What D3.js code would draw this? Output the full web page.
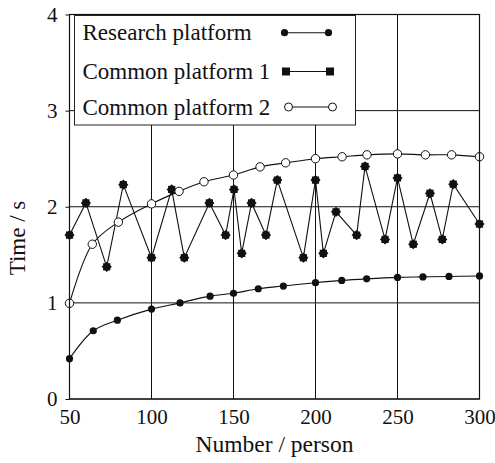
<!DOCTYPE html>
<meta charset="utf-8">
<style>
	body{ margin:0; background:#fff; }
	svg text{ font-family:"Liberation Serif", "DejaVu Serif", serif; fill:#111; }
	.grid line{ stroke:#111; stroke-width:1; }
	.axis path, .axis line{ stroke:#111; }
</style>
<body>
<svg width="495" height="463" id="chart"></svg>
<script src="https://cdn.jsdelivr.net/npm/d3@7"></script>
<script>
	// Research platform
	var researchX = [50, 64.5, 79.2, 100, 117.4, 135.7, 150, 165.1, 180.4, 200, 216, 231.2, 250, 265.5, 281.4, 300];
	var researchY = [0.42, 0.71, 0.82, 0.935, 1.0, 1.07, 1.10, 1.147, 1.175, 1.21, 1.234, 1.25, 1.265, 1.27, 1.275, 1.28];
	// Common platform 1
	var common1X = [50, 60, 72.7, 82.8, 100, 112.3, 120, 135.3, 145.2, 150.3, 155, 161, 169.8, 176.7, 192.6, 200, 204.8, 212.5, 225.1, 230.2, 242.4, 250, 259.6, 269.8, 277.3, 284, 300];
	var common1Y = [1.705, 2.04, 1.375, 2.23, 1.47, 2.18, 1.47, 2.04, 1.705, 2.18, 1.515, 2.04, 1.705, 2.277, 1.47, 2.277, 1.515, 1.947, 1.705, 2.42, 1.66, 2.30, 1.61, 2.14, 1.66, 2.235, 1.82];
	// Common platform 2
	var common2X = [50, 63.9, 79.8, 100, 116.8, 132, 150, 166.2, 181.8, 200, 216.2, 231.4, 250, 267, 283, 300];
	var common2Y = [0.995, 1.61, 1.84, 2.03, 2.16, 2.26, 2.33, 2.415, 2.457, 2.50, 2.52, 2.54, 2.55, 2.54, 2.54, 2.52];

	var xTicks = [50, 100, 150, 200, 250, 300];
	var yTicks = [0, 1, 2, 3, 4];
	var seriesNames = ["Research platform", "Common platform 1", "Common platform 2"];

	var svg = d3.select("#chart");
	var pLeft = 69.5, pTop = 14.5, pRight = 479.5, pBottom = 399;

	var x = d3.scaleLinear().domain([50, 300]).range([pLeft, pRight]);
	var y = d3.scaleLinear().domain([0, 4]).range([pBottom, pTop]);

	/* grid lines */
	var grid = svg.append("g").attr("class", "grid");
	grid.selectAll(".gx").data(xTicks).enter().append("line")
		.attr("x1", function(d){ return x(d); }).attr("x2", function(d){ return x(d); })
		.attr("y1", pTop).attr("y2", pBottom);
	grid.selectAll(".gy").data(yTicks).enter().append("line")
		.attr("x1", pLeft).attr("x2", pRight)
		.attr("y1", function(d){ return y(d); }).attr("y2", function(d){ return y(d); });

	/* axes */
	svg.append("g").attr("class", "axis")
		.attr("transform", "translate(0," + pBottom + ")")
		.call(d3.axisBottom(x).tickValues(xTicks).tickFormat(d3.format("d")).tickSize(0).tickPadding(10));
	svg.append("g").attr("class", "axis")
		.attr("transform", "translate(" + pLeft + ",0)")
		.call(d3.axisLeft(y).tickValues(yTicks).tickFormat(d3.format("d")).tickSize(4).tickPadding(8));
	svg.selectAll(".axis .domain").remove();
	svg.selectAll(".axis text").style("font-size", "21px").style("font-family", "Liberation Serif");

	svg.append("text").attr("x", (pLeft + pRight) / 2).attr("y", 452)
		.attr("text-anchor", "middle").style("font-size", "23.5px").text("Number / person");
	svg.append("text").attr("transform", "translate(25," + 238 + ") rotate(-90)")
		.attr("text-anchor", "middle").style("font-size", "23px").text("Time / s");

	/* series */
	function pts(xs, ys){ return xs.map(function(d, i){ return [d, ys[i]]; }); }
	var research = pts(researchX, researchY);
	var common1 = pts(common1X, common1Y);
	var common2 = pts(common2X, common2Y);

	var smooth = d3.line().x(function(d){ return x(d[0]); }).y(function(d){ return y(d[1]); }).curve(d3.curveCatmullRom);
	var straight = d3.line().x(function(d){ return x(d[0]); }).y(function(d){ return y(d[1]); });

	svg.append("path").attr("d", smooth(research)).attr("fill", "none").attr("stroke", "#111").attr("stroke-width", 1.1);
	svg.append("path").attr("d", straight(common1)).attr("fill", "none").attr("stroke", "#111").attr("stroke-width", 1.1);
	svg.append("path").attr("d", smooth(common2)).attr("fill", "none").attr("stroke", "#111").attr("stroke-width", 1.1);

	svg.selectAll(".r").data(research).enter().append("circle")
		.attr("cx", function(d){ return x(d[0]); }).attr("cy", function(d){ return y(d[1]); })
		.attr("r", 3.6).attr("fill", "#111");

	var c1 = svg.selectAll(".c1").data(common1).enter().append("g")
		.attr("transform", function(d){ return "translate(" + x(d[0]) + "," + y(d[1]) + ")"; });
	c1.append("rect").attr("x", -3.6).attr("y", -3.6).attr("width", 7.2).attr("height", 7.2).attr("fill", "#111");
	c1.append("rect").attr("x", -3.6).attr("y", -3.6).attr("width", 7.2).attr("height", 7.2).attr("fill", "#111").attr("transform", "rotate(45)");

	svg.selectAll(".c2").data(common2).enter().append("circle")
		.attr("cx", function(d){ return x(d[0]); }).attr("cy", function(d){ return y(d[1]); })
		.attr("r", 4.2).attr("fill", "#fff").attr("stroke", "#111").attr("stroke-width", 1);

	/* frame */
	svg.append("rect").attr("x", pLeft).attr("y", pTop).attr("width", pRight - pLeft).attr("height", pBottom - pTop)
		.attr("fill", "none").attr("stroke", "#111").attr("stroke-width", 1.2);

	/* legend */
	var legend = svg.append("g");
	legend.append("rect").attr("x", 74.5).attr("y", 15.5).attr("width", 281).attr("height", 109.5)
		.attr("fill", "#fff").attr("stroke", "#222").attr("stroke-width", 1);
	var rowY = [32.7, 71.5, 107];
	seriesNames.forEach(function(n, i){
		legend.append("text").attr("x", 82.5).attr("y", rowY[i] + 7.5).style("font-size", "23px").text(n);
		legend.append("line").attr("x1", 286).attr("x2", 331).attr("y1", rowY[i]).attr("y2", rowY[i])
			.attr("stroke", "#111").attr("stroke-width", 1.1);
		[286, 330].forEach(function(px){
			if(i == 0) legend.append("circle").attr("cx", px - 1.5).attr("cy", rowY[i]).attr("r", 3.6).attr("fill", "#111");
			if(i == 1) legend.append("rect").attr("x", px - 4).attr("y", rowY[i] - 4).attr("width", 8).attr("height", 8).attr("fill", "#111");
			if(i == 2) legend.append("circle").attr("cx", px + 2.5).attr("cy", rowY[i]).attr("r", 4).attr("fill", "#fff").attr("stroke", "#111");
		});
	});
</script>
</body>
